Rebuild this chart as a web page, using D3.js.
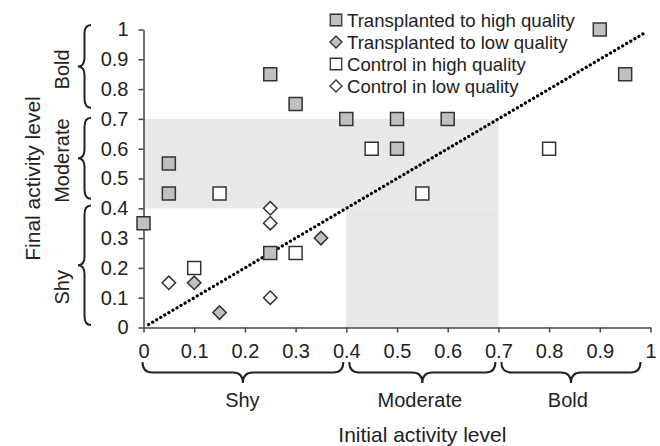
<!DOCTYPE html>
<html>
<head>
<meta charset="utf-8">
<script src="https://cdn.jsdelivr.net/npm/d3@7"></script>
<style>
  body { margin: 0; background: #fff; }
  svg { display: block; font-family: "Liberation Sans", Arial, sans-serif; }
</style>
</head>
<body>
<div id="chart"></div>
<script>
// series: [initial, final]
const transplantedHigh = [[0, 0.35], [0.05, 0.55], [0.05, 0.45], [0.25, 0.85], [0.3, 0.75], [0.4, 0.7],
  [0.5, 0.7], [0.5, 0.6], [0.6, 0.7], [0.9, 1.0], [0.95, 0.85], [0.25, 0.25]];
const transplantedLow = [[0.1, 0.15], [0.15, 0.05], [0.35, 0.3]];
const controlHigh = [[0.15, 0.45], [0.1, 0.2], [0.3, 0.25], [0.45, 0.6], [0.55, 0.45], [0.8, 0.6]];
const controlLow = [[0.05, 0.15], [0.25, 0.4], [0.25, 0.35], [0.25, 0.1]];

const ticks = [0, 0.1, 0.2, 0.3, 0.4, 0.5, 0.6, 0.7, 0.8, 0.9, 1];
const categories = ["Shy", "Moderate", "Bold"];
const catBounds = [0, 0.4, 0.7, 1];

// grey zone: x range, y range
const shaded = [
  { x: [0, 0.7], y: [0.4, 0.7] },
  { x: [0.4, 0.7], y: [0, 0.4] }
];

const series = [
  { name: "Transplanted to high quality", data: transplantedHigh, shape: "square", fill: "#c0c0c0" },
  { name: "Transplanted to low quality", data: transplantedLow, shape: "diamond", fill: "#c0c0c0" },
  { name: "Control in high quality", data: controlHigh, shape: "square", fill: "#fff" },
  { name: "Control in low quality", data: controlLow, shape: "diamond", fill: "#fff" }
];

const width = 660, height = 446;
const x = d3.scaleLinear().domain([0, 1]).range([143.5, 650.5]);
const y = d3.scaleLinear().domain([0, 1]).range([327.5, 29.5]);
const ink = "#222";

const svg = d3.select("#chart").append("svg")
  .attr("width", width)
  .attr("height", height);

// shaded zones
svg.append("g").selectAll("rect")
  .data(shaded)
  .join("rect")
  .attr("x", d => x(d.x[0]))
  .attr("y", d => y(d.y[1]))
  .attr("width", d => x(d.x[1]) - x(d.x[0]))
  .attr("height", d => y(d.y[0]) - y(d.y[1]))
  .attr("fill", "#e8e8e8");

// 1:1 line
svg.append("line")
  .attr("x1", x(0.01)).attr("y1", y(0.01))
  .attr("x2", x(0.99)).attr("y2", y(0.99))
  .attr("stroke", "#000")
  .attr("stroke-width", 3.2)
  .attr("stroke-linecap", "round")
  .attr("stroke-dasharray", "0.1,4.6");

const fmt = d => String(+d.toFixed(1));

const yAxis = svg.append("g")
  .attr("transform", `translate(${x(0)},0)`)
  .call(d3.axisLeft(y).tickValues(ticks).tickFormat(fmt).tickSize(5).tickSizeOuter(0).tickPadding(10));

const xAxis = svg.append("g")
  .attr("transform", `translate(0,${y(0)})`)
  .call(d3.axisBottom(x).tickValues(ticks).tickFormat(fmt).tickSize(5).tickSizeOuter(0).tickPadding(11));

[xAxis, yAxis].forEach(a => {
  a.select(".domain").attr("stroke", "#444").attr("stroke-width", 1.5);
  a.selectAll(".tick line").attr("stroke", "#444").attr("stroke-width", 1.5);
  a.selectAll(".tick text").attr("font-size", 20).attr("fill", ink)
    .attr("font-family", "'Liberation Sans', Arial, sans-serif");
});

// points
series.forEach(sr => {
  svg.append("g").selectAll("path")
    .data(sr.data)
    .join("path")
    .attr("transform", d => `translate(${x(d[0])},${y(d[1])})${sr.shape === "diamond" ? " rotate(45)" : ""}`)
    .attr("d", sr.shape === "square" ? d3.symbol(d3.symbolSquare, 13 * 13) : d3.symbol(d3.symbolSquare, 9.5 * 9.5))
    .attr("fill", sr.fill)
    .attr("stroke", "#333")
    .attr("stroke-width", 1.5);
});

// legend
const legend = svg.append("g").attr("transform", "translate(336,0)");
const item = legend.selectAll("g")
  .data(series)
  .join("g")
  .attr("transform", (d, i) => `translate(0,${20 + i * 22})`);
item.append("path")
  .attr("transform", d => d.shape === "diamond" ? "rotate(45)" : null)
  .attr("d", d => d.shape === "square" ? d3.symbol(d3.symbolSquare, 11.5 * 11.5)() : d3.symbol(d3.symbolSquare, 8.5 * 8.5)())
  .attr("fill", d => d.fill)
  .attr("stroke", "#333")
  .attr("stroke-width", 1.3);
item.append("text")
  .attr("x", 11)
  .attr("y", 7)
  .attr("font-size", 18.6)
  .attr("fill", ink)
  .text(d => d.name);

// braces
function hBrace(x1, x2, y0, h, r) {
  const m = (x1 + x2) / 2;
  return `M${x1},${y0} Q${x1},${y0 + h} ${x1 + r},${y0 + h} L${m - r},${y0 + h} Q${m},${y0 + h} ${m},${y0 + 2 * h}` +
    ` Q${m},${y0 + h} ${m + r},${y0 + h} L${x2 - r},${y0 + h} Q${x2},${y0 + h} ${x2},${y0}`;
}
function vBrace(y1, y2, x0, h, r) {
  const m = (y1 + y2) / 2;
  return `M${x0},${y1} Q${x0 - h},${y1} ${x0 - h},${y1 + r} L${x0 - h},${m - r} Q${x0 - h},${m} ${x0 - 2 * h},${m}` +
    ` Q${x0 - h},${m} ${x0 - h},${m + r} L${x0 - h},${y2 - r} Q${x0 - h},${y2} ${x0},${y2}`;
}

// x braces span category bounds, with small gaps
const xBraces = categories.map((c, i) => ({ c, lo: catBounds[i], hi: catBounds[i + 1] }));
svg.append("g").selectAll("path")
  .data(xBraces)
  .join("path")
  .attr("d", d => hBrace(x(d.lo) + (d.lo === 0 ? -1 : 3), x(d.hi) - (d.hi === 1 ? 10 : 3), 362, 10.5, 10))
  .attr("fill", "none")
  .attr("stroke", ink)
  .attr("stroke-width", 2);

const xCatLabelPos = [0.195, 0.545, 0.837];
svg.append("g").selectAll("text")
  .data(categories)
  .join("text")
  .attr("x", (d, i) => x(xCatLabelPos[i]))
  .attr("y", 407)
  .attr("text-anchor", "middle")
  .attr("font-size", 20)
  .attr("fill", ink)
  .text(d => d);

// y braces (pixel-estimated spans in data units)
const yBraceSpans = [[0.008, 0.409], [0.432, 0.704], [0.737, 1.015]];
svg.append("g").selectAll("path")
  .data(yBraceSpans)
  .join("path")
  .attr("d", d => vBrace(y(d[1]), y(d[0]), 91, 6.5, 9))
  .attr("fill", "none")
  .attr("stroke", ink)
  .attr("stroke-width", 2);

const yCatLabelPos = [0.135, 0.56, 0.866];
svg.append("g").selectAll("text")
  .data(categories)
  .join("text")
  .attr("transform", (d, i) => `translate(69,${y(yCatLabelPos[i])}) rotate(-90)`)
  .attr("text-anchor", "middle")
  .attr("font-size", 20)
  .attr("fill", ink)
  .text(d => d);

// axis titles
svg.append("text")
  .attr("x", x(0.55))
  .attr("y", 442)
  .attr("text-anchor", "middle")
  .attr("font-size", 21)
  .attr("fill", ink)
  .text("Initial activity level");

svg.append("text")
  .attr("transform", `translate(40,${y(0.5)}) rotate(-90)`)
  .attr("text-anchor", "middle")
  .attr("font-size", 21)
  .attr("fill", ink)
  .text("Final activity level");
</script>
</body>
</html>
